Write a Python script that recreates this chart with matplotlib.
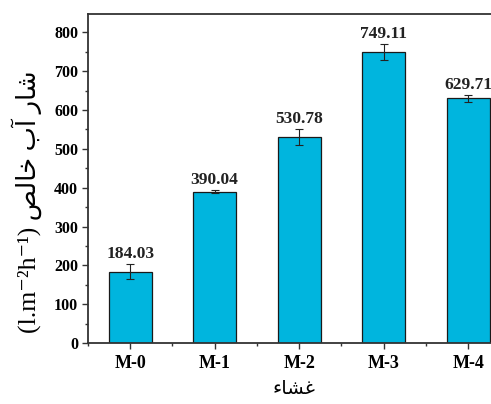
import matplotlib
matplotlib.use("Agg")
import matplotlib.pyplot as plt
from matplotlib.ticker import MultipleLocator

# Pure water flux per membrane
membranes = ["M-0", "M-1", "M-2", "M-3", "M-4"]
flux = [184.03, 390.04, 530.78, 749.11, 629.71]
flux_err = [20, 5, 20, 20, 10]

# Persian axis titles written in presentation forms (visual order)
xlabel_fa = "\uFE80\uFE8E\uFEB8\uFECF"  # غشاء
ylabel_fa = "\uFEBA\uFEDF\uFE8E\uFEA7 \uFE8F\uFE81 \uFEAD\uFE8E\uFEB7"  # شار آب خالص

serif = ["Liberation Serif", "DejaVu Serif"]
mixed = ["Liberation Serif", "DejaVu Sans"]

fig = plt.figure(figsize=(4.91, 4.04), dpi=100)
ax = fig.add_axes([0.179, 0.151, 0.84, 0.815])

x = list(range(len(membranes)))
ax.bar(x, flux, width=0.51, color="#00B5DE", edgecolor="#1a1a1a", linewidth=0.9,
       yerr=flux_err, error_kw=dict(ecolor="#222222", elinewidth=0.8, capsize=3, capthick=0.8),
       zorder=2)

for xi, v, e in zip(x, flux, flux_err):
    ax.text(xi, v + e + 5, f"{v:.2f}", ha="center", va="bottom",
            fontsize=12.5, fontweight="bold", family=serif, color="#222222")

ax.set_xlim(-0.5, 4.38)
ax.set_ylim(0, 848)
ax.set_xticks(x)
ax.set_xticklabels(membranes, fontsize=13, fontweight="bold", family=serif)
ax.xaxis.set_minor_locator(MultipleLocator(0.5))
ax.yaxis.set_major_locator(MultipleLocator(100))
ax.yaxis.set_minor_locator(MultipleLocator(50))
for lbl in ax.get_yticklabels():
    lbl.set_fontfamily(serif)
    lbl.set_fontweight("bold")
    lbl.set_fontsize(11.5)

ax.tick_params(axis="both", which="major", direction="out", length=4, width=1, color="#333333", pad=3)
ax.tick_params(axis="both", which="minor", direction="out", length=2, width=1, color="#333333")
ax.tick_params(axis="x", which="major", pad=5)
for s in ax.spines.values():
    s.set_linewidth(1.3)
    s.set_color("#333333")

ax.set_xlabel(xlabel_fa, fontsize=14, family=mixed, labelpad=6)
ax.set_ylabel("(l.m\u207B\u00B2h\u207B\u00B9) " + ylabel_fa, fontsize=18.5, family=mixed)
ax.yaxis.set_label_coords(-0.112, 0.43)

fig.savefig("out.png", dpi=100)
